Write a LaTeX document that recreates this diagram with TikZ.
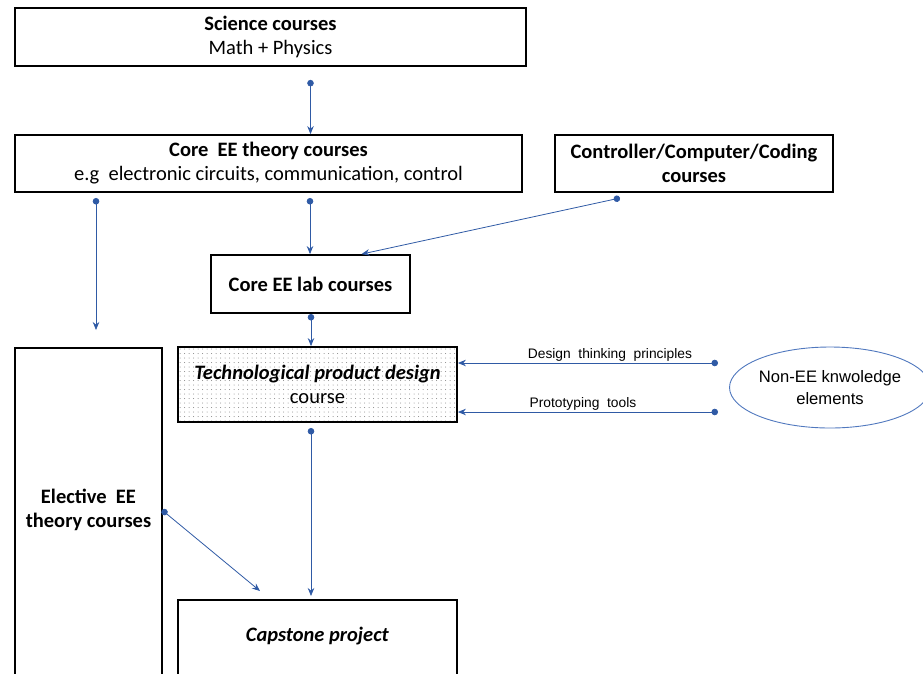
\documentclass[tikz,border=0pt]{standalone}
\usepackage{fontspec}
\setmainfont{Carlito}
\newfontfamily\arialf{Liberation Sans}
\usetikzlibrary{arrows.meta,patterns.meta,calc,shapes.geometric}
\definecolor{eeblue}{RGB}{47,90,165}
\definecolor{elblue}{RGB}{80,120,190}
\begin{document}
\begin{tikzpicture}[x=1pt,y=-1pt,
  box/.style={draw, line width=1.8pt, inner sep=0pt, align=center,
    font=\fontsize{20.5}{24}\selectfont},
  btext/.style={inner sep=0pt, align=center, font=\fontsize{20.5}{24}\selectfont},
  conn/.style={draw=eeblue, line width=0.8pt,
    {Circle[length=6.5pt,fill=eeblue]}-{Stealth[length=8pt,width=6.5pt]}},
  lbl/.style={font=\arialf\fontsize{13.8}{14}\selectfont, inner sep=0pt}]
\useasboundingbox (0,0) rectangle (923,673);
\clip (0,0) rectangle (923,673);
\node[box, minimum width=511, minimum height=58] (sci) at (270.5,37)
  {\textbf{Science courses}\\Math + Physics};
\node[box, minimum width=507, minimum height=57] (theory) at (268.5,163.5)
  {\textbf{Core\ \ EE theory courses}\\e.g\ \ electronic circuits, communication, control};
\node[box, minimum width=278, minimum height=57] (ctrl) at (694,163.5)
  {\textbf{Controller/Computer/Coding}\\\textbf{courses}};
\node[box, minimum width=199, minimum height=58] (lab) at (310.5,284)
  {\textbf{Core EE lab courses}};
\node[box, minimum width=279, minimum height=75,
  pattern={Dots[distance=4.5pt,radius=0.5pt]}, pattern color=black!50] (tech) at (317.5,384.5)
  {\textbf{\textit{Technological product design}}\\course};
\node[box, minimum width=147, minimum height=345, anchor=north] (elec) at (88.5,347) {};
\node[btext] (electext) at (88.5,510) {\textbf{Elective\ \ EE}\\\textbf{theory courses}};
\node[box, minimum width=279, minimum height=90, anchor=north] (cap) at (317.5,599) {};
\node[btext] (captext) at (317.5,636) {\textbf{\textit{Capstone project}}};
\node[draw=elblue, line width=0.9pt, ellipse, minimum width=190, minimum height=81,
  align=center, inner sep=0pt, font=\arialf\fontsize{16.6}{22}\selectfont] (ell) at (830,387.5)
  {Non-EE knwoledge\\elements};
% connectors
\coordinate (s1) at ($(sci.south)+(40,13)$);
\draw[conn] (s1) -- (s1 |- theory.north);
\coordinate (t1) at (96,198);
\draw[conn] (t1) -- ($(t1 |- elec.north)+(0,-17)$);
\coordinate (t2) at (310,198);
\draw[conn] (t2) -- (t2 |- lab.north);
\coordinate (c1) at (620,198);
\draw[conn] (c1) -- ($(lab.north)+(51,0)$);
\coordinate (l1) at (311,314);
\draw[conn] (l1) -- (l1 |- tech.north);
\coordinate (n1) at (718,363);
\coordinate (n2) at (718,412);
\draw[conn] (n1) -- node[lbl, above=1.5pt, xshift=22pt] (dtp) {Design\ \ thinking\ \ principles} (n1 -| tech.east);
\draw[conn] (n2) -- node[lbl, above=1.5pt, xshift=-5pt] (pt) {Prototyping\ \ tools} (n2 -| tech.east);
\coordinate (d1) at (311,428);
\draw[conn] (d1) -- ($(d1 |- cap.north)+(0,-3)$);
\coordinate (e1) at (162,510);
\draw[conn] (e1) -- (260,591);
\end{tikzpicture}
\end{document}
